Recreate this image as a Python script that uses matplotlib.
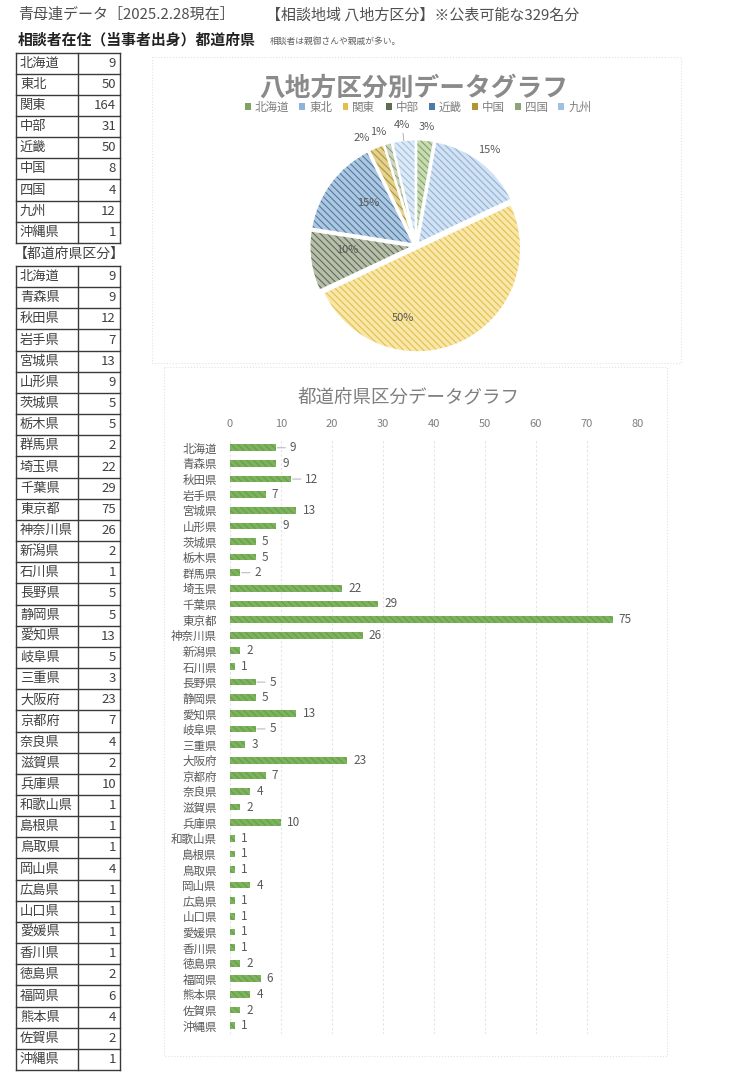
import numpy as np
import matplotlib
matplotlib.use("Agg")
import matplotlib.pyplot as plt
from matplotlib.patches import Patch, Rectangle

plt.rcParams['font.family'] = ['Noto Sans CJK JP', 'DejaVu Sans']
plt.rcParams['hatch.linewidth'] = 0.8

# --- data ---
regions = ['北海道', '東北', '関東', '中部', '近畿', '中国', '四国', '九州', '沖縄県']
region_counts = [9, 50, 164, 31, 50, 8, 4, 12, 1]

pie_regions = regions[:8]
pie_counts = region_counts[:8]
pie_pct = ['3%', '15%', '50%', '10%', '15%', '2%', '1%', '4%']

prefs = ['北海道', '青森県', '秋田県', '岩手県', '宮城県', '山形県', '茨城県', '栃木県',
         '群馬県', '埼玉県', '千葉県', '東京都', '神奈川県', '新潟県', '石川県', '長野県',
         '静岡県', '愛知県', '岐阜県', '三重県', '大阪府', '京都府', '奈良県', '滋賀県',
         '兵庫県', '和歌山県', '島根県', '鳥取県', '岡山県', '広島県', '山口県', '愛媛県',
         '香川県', '徳島県', '福岡県', '熊本県', '佐賀県', '沖縄県']
pref_counts = [9, 9, 12, 7, 13, 9, 5, 5, 2, 22, 29, 75, 26, 2, 1, 5,
               5, 13, 5, 3, 23, 7, 4, 2, 10, 1, 1, 1, 4, 1, 1, 1,
               1, 2, 6, 4, 2, 1]

# --- styles ---
pie_face = ['#c9dbb5', '#d2e2f2', '#f8e7a8', '#b7bfac', '#aec7df', '#e2d294', '#cdd7bf', '#dde9f5']
pie_line = ['#7fa363', '#8fb3d8', '#e3c04e', '#5f6d52', '#4d7ba8', '#b39530', '#8fa37a', '#9fc0e0']
lab_r = [1.15, 1.16, 0.70, 0.66, 0.62, 1.16, 1.16, 1.17]
lab_shift = [0, 0, -36, -5, -6, 5, 3, 0]
leader = {'北海道', '秋田県', '群馬県', '長野県', '岐阜県'}
gray = '#7f7f7f'
dark = '#595959'

W, H = 736, 1090
fig = plt.figure(figsize=(W / 100, H / 100), dpi=100)

# background axes in pixel units for the sheet text and tables
bg = fig.add_axes([0, 0, 1, 1])
bg.set_xlim(0, W)
bg.set_ylim(H, 0)
bg.axis('off')

bg.text(18, 15, '青母連データ［2025.2.28現在］', fontsize=10.8, color='#505050', va='center')
bg.text(266, 15, '【相談地域 八地方区分】※公表可能な329名分', fontsize=10.8, color='#505050', va='center')
bg.text(18, 40, '相談者在住（当事者出身）都道府県', fontsize=10.7, weight='bold', color='#222222', va='center')
bg.text(270, 41, '相談者は親御さんや親戚が多い。', fontsize=6.3, color='#606060', va='center')


def draw_table(names, vals, top, row_h=21.16, x0=16, xm=78, x1=120):
    n = len(names)
    bottom = top + n * row_h
    for i in range(n + 1):
        y = top + i * row_h
        bg.plot([x0, x1], [y, y], color='#3a3a3a', lw=1.0)
    for x in (x0, xm, x1):
        bg.plot([x, x], [top, bottom], color='#3a3a3a', lw=1.0)
    for i, (nm, v) in enumerate(zip(names, vals)):
        yc = top + (i + 0.5) * row_h
        bg.text(x0 + 4, yc, nm, fontsize=9.5, color='#404040', va='center')
        bg.text(x1 - 4, yc, str(v), fontsize=9.5, color='#404040', va='center', ha='right')


draw_table(regions, region_counts, 52.5)
bg.text(14, 254, '【都道府県区分】', fontsize=10, color='#404040', va='center')
draw_table(prefs, pref_counts, 266)

# chart frames (faint dotted)
bg.add_patch(Rectangle((152, 57), 529, 306, fill=False, ec='#e2e2e2', lw=0.8, ls=':'))
bg.add_patch(Rectangle((164, 367), 503, 689, fill=False, ec='#e2e2e2', lw=0.8, ls=':'))

# --- pie chart ---
bg.text(414, 88, '八地方区分別データグラフ', fontsize=18.5, weight='bold', color='#8a8a8a',
        ha='center', va='center')
handles = [Patch(facecolor=c, edgecolor='none') for c in pie_line]
bg.legend(handles, pie_regions, loc='center', bbox_to_anchor=(418, 107), bbox_transform=bg.transData,
          ncol=8, frameon=False, fontsize=8.3, labelcolor=gray, handlelength=0.5, handleheight=0.5,
          handletextpad=0.35, columnspacing=0.9, borderpad=0)

cx, cy, R = 416, 246, 104
side = 3 * R
pax = fig.add_axes([(cx - side / 2) / W, (H - cy - side / 2) / H, side / W, side / H])

wedges, _ = pax.pie(pie_counts, startangle=90, counterclock=False, explode=[0.025] * 8,
                    colors=pie_face, radius=1.0, center=(0, 0), frame=True)
for w, lc in zip(wedges, pie_line):
    w.set_edgecolor(lc)
    w.set_linewidth(0)
    w.set_hatch('\\\\\\\\\\')
pax.pie(pie_counts, startangle=90, counterclock=False, explode=[0.025] * 8,
        colors=['none'] * 8, radius=1.0, center=(0, 0), frame=True,
        wedgeprops=dict(edgecolor='white', linewidth=1.6))
pax.set_xlim(-1.5, 1.5)
pax.set_ylim(-1.5, 1.5)
pax.axis('off')

for w, txt, r, sh in zip(wedges, pie_pct, lab_r, lab_shift):
    ang = np.deg2rad((w.theta1 + w.theta2) / 2 + sh)
    pax.text(r * np.cos(ang), r * np.sin(ang), txt, fontsize=8, color=dark, ha='center', va='center')
# leader for the 九州 label
ang = np.deg2rad((wedges[7].theta1 + wedges[7].theta2) / 2)
pax.plot([1.02 * np.cos(ang), 1.09 * np.cos(ang)], [1.02 * np.sin(ang), 1.09 * np.sin(ang)],
         color='#a6a6a6', lw=0.6)

# --- bar chart ---
bg.text(409, 397, '都道府県区分データグラフ', fontsize=13.3, color=gray, ha='center', va='center')

left, right, top, bottom = 230, 638, 440, 1033.5
bax = fig.add_axes([left / W, (H - bottom) / H, (right - left) / W, (bottom - top) / H])
bax.patch.set_alpha(0)
y = np.arange(len(prefs))
bars = bax.barh(y, pref_counts, height=0.43, color='#7db35c', edgecolor='#669d47', lw=0,
                hatch='\\\\\\\\\\', zorder=3)
bax.set_xlim(0, 80)
bax.set_ylim(len(prefs) - 0.5, -0.5)
bax.set_xticks(np.arange(0, 81, 10))
bax.set_yticks(y, prefs)
bax.xaxis.tick_top()
bax.tick_params(axis='x', length=0, pad=8, labelsize=8, labelcolor=gray)
bax.tick_params(axis='y', length=0, pad=9.5, labelsize=8.3, labelcolor=dark)
bax.grid(axis='x', color='#e4e4e4', lw=0.8, ls=(0, (2, 2)), zorder=0)
for s in bax.spines.values():
    s.set_visible(False)

for i, (nm, v) in enumerate(zip(prefs, pref_counts)):
    if nm in leader:
        bax.annotate(str(v), xy=(v, i), xytext=(10, 0), textcoords='offset points',
                     va='center', ha='left', fontsize=8.5, color=dark,
                     arrowprops=dict(arrowstyle='-', color='#a6a6a6', lw=0.6, shrinkA=1, shrinkB=1))
    else:
        bax.annotate(str(v), xy=(v, i), xytext=(4.5, 0), textcoords='offset points',
                     va='center', ha='left', fontsize=8.5, color=dark)

fig.savefig('out.png', dpi=100)
